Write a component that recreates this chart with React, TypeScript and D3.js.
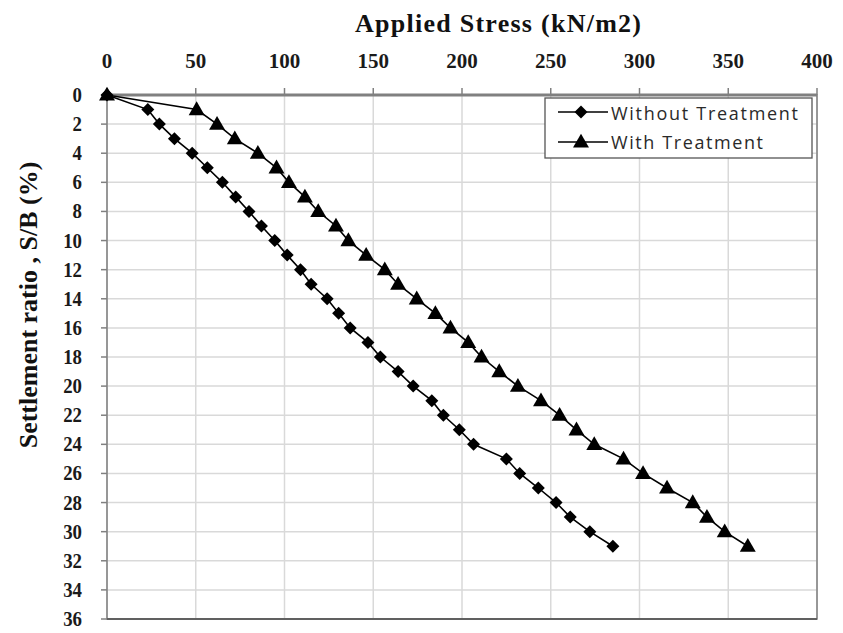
import React from "react";
import * as d3 from "d3";

const settlement: number[] = [0,1,2,3,4,5,6,7,8,9,10,11,12,13,14,15,16,17,18,19,20,21,22,23,24,25,26,27,28,29,30,31];
const withoutTreatment: number[] = [0,23,29.5,38,48,56.5,65,72.5,80,87,94.5,101.5,109,115,124,130.5,137,147,154,164,172.5,183,189.5,198.5,206.5,225,232.5,243,253,261,272,285];
const withTreatment: number[] = [0,50.5,62,72,85,95.5,102.5,111.5,119,129,136,146,156.5,164,174.5,185,193.5,203.5,211,221,231.5,244.5,255,264.5,274.5,291,302,315.5,330,338,348,361];
const xTicks: number[] = [0,50,100,150,200,250,300,350,400];
const yTicks: number[] = [0,2,4,6,8,10,12,14,16,18,20,22,24,26,28,30,32,34,36];
const seriesNames: string[] = ["Without Treatment", "With Treatment"];
const xTitle = "Applied Stress (kN/m2)";
const yTitle = "Settlement ratio , S/B (%)";

const W = 843, H = 633;
const L = 107, R = 817, T = 95, B = 619;

export default function App() {
  const x = d3.scaleLinear().domain([0, 400]).range([L, R]);
  const y = d3.scaleLinear().domain([0, 36]).range([T, B]);
  const line = d3.line<[number, number]>().x(d => x(d[0])).y(d => y(d[1]));
  const s1: [number, number][] = withoutTreatment.map((v, i) => [v, settlement[i]]);
  const s2: [number, number][] = withTreatment.map((v, i) => [v, settlement[i]]);
  const diamond = "M0,-6.5L6.5,0L0,6.5L-6.5,0Z";
  const tri = d3.symbol().type(d3.symbolTriangle).size(110)() as string;
  const serif = "'Liberation Serif', 'Times New Roman', serif";
  const sans = "'Open Sans', 'Liberation Sans', Arial, sans-serif";
  const legX = 545, legY = 98;
  return (
    <svg width={W} height={H} style={{ position: "absolute", left: 0, top: 0, background: "#fff" }}>
      <rect x={0} y={0} width={W} height={H} fill="#fff" />
      {xTicks.map(t => (
        <line key={"gx" + t} x1={x(t)} x2={x(t)} y1={T} y2={B} stroke="#d9d9d9" strokeWidth={1.5} />
      ))}
      {yTicks.map(t => (
        <line key={"gy" + t} x1={L} x2={R} y1={y(t)} y2={y(t)} stroke="#d9d9d9" strokeWidth={1.5} />
      ))}
      <rect x={L} y={T} width={R - L} height={B - T} fill="none" stroke="#7f7f7f" strokeWidth={1.5} />
      <line x1={L} x2={R} y1={T} y2={T} stroke="#808080" strokeWidth={3} />
      <line x1={L} x2={R} y1={B} y2={B} stroke="#606060" strokeWidth={2} />
      {xTicks.map(t => (
        <g key={"xt" + t}>
          <line x1={x(t)} x2={x(t)} y1={T - 7} y2={T} stroke="#808080" strokeWidth={1.5} />
          <text x={x(t)} y={68} textAnchor="middle" fontFamily={serif} fontWeight="bold" fontSize={21} fill="#1a1a1a">{t}</text>
        </g>
      ))}
      {yTicks.map(t => (
        <g key={"yt" + t}>
          <line x1={L - 6} x2={L} y1={y(t)} y2={y(t)} stroke="#808080" strokeWidth={1.5} />
          <text x={82} y={y(t) + 7} textAnchor="end" fontFamily={serif} fontWeight="bold" fontSize={21}
            fill="#1a1a1a" textLength={String(t).length * 9.4} lengthAdjust="spacingAndGlyphs">{t}</text>
        </g>
      ))}
      <text x={498} y={32} textAnchor="middle" fontFamily={serif} fontWeight="bold" fontSize={26} fill="#111" textLength={286}>{xTitle}</text>
      <text transform={`translate(37,305) rotate(-90)`} textAnchor="middle" fontFamily={serif} fontWeight="bold" fontSize={26} fill="#111">{yTitle}</text>
      <path d={line(s1) || ""} fill="none" stroke="#000" strokeWidth={1.6} />
      <path d={line(s2) || ""} fill="none" stroke="#000" strokeWidth={1.6} />
      {s1.map((d, i) => (
        <path key={"d" + i} d={diamond} transform={`translate(${x(d[0])},${y(d[1])})`} fill="#000" />
      ))}
      {s2.map((d, i) => (
        <path key={"t" + i} d={tri} transform={`translate(${x(d[0])},${y(d[1]) + 1})`} fill="#000" />
      ))}
      <rect x={legX} y={legY} width={812 - legX} height={60} fill="#fff" stroke="#555" strokeWidth={1.3} />
      <line x1={558} x2={608} y1={112} y2={112} stroke="#000" strokeWidth={1.6} />
      <path d={diamond} transform="translate(581,112)" fill="#000" />
      <text x={611} y={120} fontFamily={sans} fontSize={18} fill="#2a2a2a" textLength={187}>{seriesNames[0]}</text>
      <line x1={558} x2={608} y1={142} y2={142} stroke="#000" strokeWidth={1.6} />
      <path d={tri} transform="translate(581,143)" fill="#000" />
      <text x={611} y={149} fontFamily={sans} fontSize={18} fill="#2a2a2a" textLength={152}>{seriesNames[1]}</text>
    </svg>
  );
}
